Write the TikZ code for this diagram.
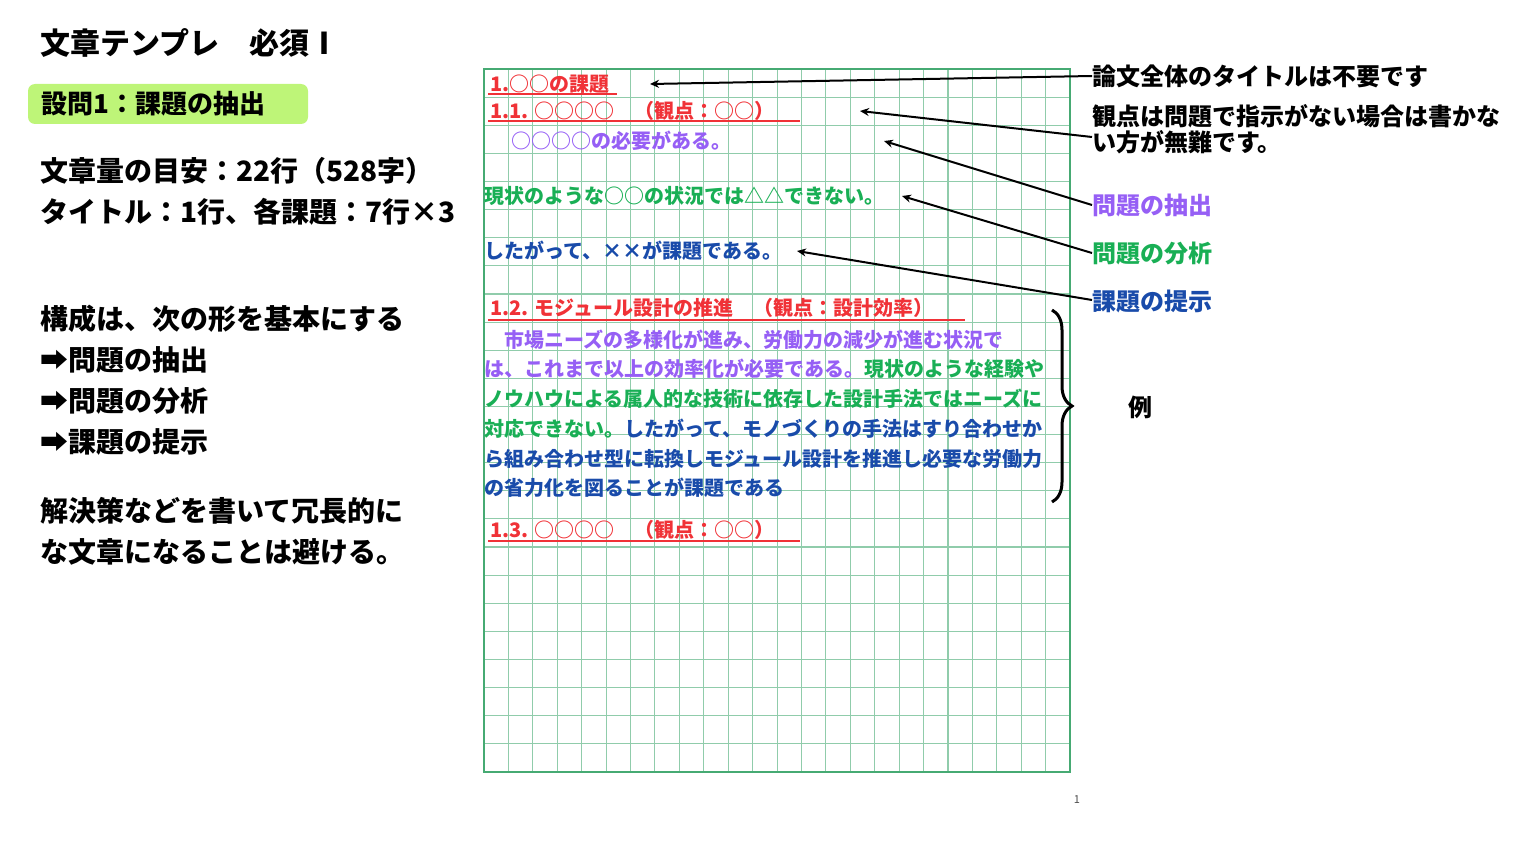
\documentclass[tikz,border=0pt]{standalone}
\usepackage{fontspec}
\setmainfont{Noto Sans CJK JP}
\usetikzlibrary{decorations.pathreplacing,calc,arrows.meta}
\definecolor{rd}{RGB}{240,50,55}
\definecolor{pu}{RGB}{150,95,245}
\definecolor{gr}{RGB}{25,175,85}
\definecolor{bl}{RGB}{25,75,170}
\definecolor{gd}{RGB}{70,170,115}
\definecolor{lg}{RGB}{190,245,120}
\begin{document}
\begin{tikzpicture}[x=1pt,y=-1pt,
  L/.style={anchor=west,inner sep=0pt,font=\fontsize{28}{30}\selectfont\bfseries},
  G/.style={anchor=west,inner sep=0pt,font=\fontsize{20}{22}\selectfont\bfseries},
  R/.style={anchor=west,inner sep=0pt,font=\fontsize{24}{26}\selectfont\bfseries},
  ul/.style={rd,line width=1.3pt},
  ar/.style={line width=2pt,-{Stealth[length=9pt,width=8pt]}}]
\useasboundingbox (0,0) rectangle (1536,864);
% grid
\foreach \i in {1,...,23} \draw[gd!60,line width=1.1pt] ({484+24.42*\i},69) -- ({484+24.42*\i},772);
\foreach \j in {1,...,24} \draw[gd!60,line width=1.1pt] (484,{69+28.12*\j}) -- (1070,{69+28.12*\j});
\draw[gd,line width=2.4pt] (484,69) rectangle (1070,772);
\node[inner sep=0pt,font=\fontsize{11}{12}\selectfont,text=black!70] (pg) at (1077,800) {1};
% left texts
\node[L,font=\fontsize{30}{32}\selectfont\bfseries] (t0) at (40,43) {文章テンプレ　必須Ⅰ};
\node[fill=lg,rounded corners=7pt,minimum width=280pt,minimum height=40pt,inner sep=0pt] (box) at (168,104) {};
\node[L,font=\fontsize{26}{28}\selectfont\bfseries] (t1) at (41,104) {設問1：課題の抽出};
\node[L] (t2) at (40,171) {文章量の目安：22行（528字）};
\node[L] (t3) at (40,212) {タイトル：1行、各課題：7行×3};
\node[L] (t4) at (40,319) {構成は、次の形を基本にする};
\node[L] (t5) at (40,360) {➡問題の抽出};
\node[L] (t6) at (40,401) {➡問題の分析};
\node[L] (t7) at (40,442) {➡課題の提示};
\node[L] (t8) at (40,511) {解決策などを書いて冗長的に};
\node[L] (t9) at (40,552) {な文章になることは避ける。};
% grid texts
\node[G,text=rd] (g1) at (490,84) {1.○○の課題};
\node[G,text=rd] (g2) at (490,111) {1.1.  ○○○○　（観点：○○）};
\node[G,text=pu] (g3) at (511,141) {○○○○の必要がある。};
\node[G,text=gr] (g4) at (484,196) {現状のような○○の状況では△△できない。};
\node[G,text=bl] (g5) at (484,251) {したがって、××が課題である。};
\node[G,text=rd] (g6) at (490,308) {1.2. モジュール設計の推進　（観点：設計効率）};
\node[G,text=pu] (e1) at (484,340) {　市場ニーズの多様化が進み、労働力の減少が進む状況で};
\node[G] (e2) at (484,369) {\textcolor{pu}{は、これまで以上の効率化が必要である。}\textcolor{gr}{現状のような経験や}};
\node[G,text=gr] (e3) at (484,399) {ノウハウによる属人的な技術に依存した設計手法ではニーズに};
\node[G] (e4) at (484,429) {\textcolor{gr}{対応できない。}\textcolor{bl}{したがって、モノづくりの手法はすり合わせか}};
\node[G,text=bl] (e5) at (484,459) {ら組み合わせ型に転換しモジュール設計を推進し必要な労働力};
\node[G,text=bl] (e6) at (484,488) {の省力化を図ることが課題である};
\node[G,text=rd] (g7) at (490,530) {1.3.  ○○○○　（観点：○○）};
\draw[ul] (488,94) -- (617,94);
\draw[ul] (488,121) -- (800,121);
\draw[ul] (488,320) -- (965,320);
\draw[ul] (488,541) -- (800,541);
% right labels
\node[R] (r1) at (1092,76) {論文全体のタイトルは不要です};
\node[R,align=left,anchor=north west] (r2) at (1092,104) {観点は問題で指示がない場合は書かな\\い方が無難です。};
\node[R,text=pu] (r3) at (1092,205) {問題の抽出};
\node[R,text=gr] (r4) at (1092,253) {問題の分析};
\node[R,text=bl] (r5) at (1092,301) {課題の提示};
\coordinate (a1) at (650,84);
\coordinate (a2) at (860,111);
\coordinate (a3) at (884,141);
\coordinate (a4) at (902,196);
\coordinate (a5) at (797,251);
\coordinate (s1) at (1092,76);
\coordinate (s2) at (1092,137);
\coordinate (s3) at (1092,205);
\coordinate (s4) at (1092,253);
\coordinate (s5) at (1092,300);
\draw[ar] (s1) -- (a1);
\draw[ar] (s2) -- (a2);
\draw[ar] (s3) -- (a3);
\draw[ar] (s4) -- (a4);
\draw[ar] (s5) -- (a5);
% brace
\coordinate (b1) at (1052,310);
\coordinate (b2) at (1052,502);
\draw[line width=3pt,decorate,decoration={brace,amplitude=20pt,aspect=0.5}] (b1) -- (b2);
\node[R] (ex) at (1128,407) {例};
\end{tikzpicture}
\end{document}
